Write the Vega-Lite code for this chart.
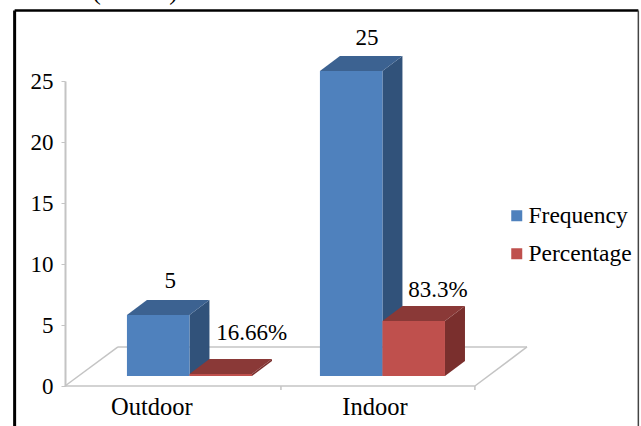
{"$schema":"https://vega.github.io/schema/vega-lite/v6.json","width":462,"height":305,"autosize":"none","padding":{"left":65,"top":81,"right":114,"bottom":40},"background":"white","config":{"view":{"stroke":null},"font":"Liberation Serif","axisX":{"disable":true},"axisY":{"grid":false,"tickCount":6,"domainColor":"#c4c4c4","domainWidth":2,"tickColor":"#c4c4c4","tickSize":4,"labelFont":"Liberation Serif","labelFontSize":23,"labelColor":"#000000","labelPadding":8}},"title":{"text":"and in 1 (3.33%) hobbies are absent.","anchor":"start","frame":"group","dx":-65,"offset":4,"font":"Liberation Serif","fontSize":26.5,"fontWeight":"normal","color":"#000000"},"data":{"values":[{"place":"Outdoor","series":"Frequency","value":5,"label":"5"},{"place":"Outdoor","series":"Percentage","value":0.16,"label":"16.66%"},{"place":"Indoor","series":"Frequency","value":25,"label":"25"},{"place":"Indoor","series":"Percentage","value":4.5,"label":"83.3%"}]},"transform":[{"calculate":"(datum.place==='Indoor'?1:0)+(datum.series==='Percentage'?0.324:0)","as":"left"},{"calculate":"datum.left+0.324","as":"right"},{"calculate":"datum.value+0.82","as":"top"},{"calculate":"0.82","as":"base"}],"layer":[
{"transform":[{"filter":"datum.label==='5'"}],"mark":{"type":"rule","stroke":"#000000","strokeWidth":3},"encoding":{"x":{"datum":-0.582,"type":"quantitative","scale":{"domain":[-0.321,2.073],"nice":false,"zero":false}},"y":{"datum":-4,"type":"quantitative","title":null,"scale":{"domain":[0,25],"nice":false,"zero":false}},"y2":{"datum":30.78}}},
{"transform":[{"filter":"datum.label==='5'"}],"mark":{"type":"rule","stroke":"#000000","strokeWidth":2.5},"encoding":{"x":{"datum":-0.582,"type":"quantitative","scale":{"domain":[-0.321,2.073],"nice":false,"zero":false}},"x2":{"datum":2.65},"y":{"datum":30.78,"type":"quantitative","title":null,"scale":{"domain":[0,25],"nice":false,"zero":false}}}},
{"transform":[{"filter":"datum.label==='5'"}],"mark":{"type":"rule","stroke":"#444444","strokeWidth":1.5},"encoding":{"x":{"datum":2.65,"type":"quantitative","scale":{"domain":[-0.321,2.073],"nice":false,"zero":false}},"y":{"datum":-4,"type":"quantitative","title":null,"scale":{"domain":[0,25],"nice":false,"zero":false}},"y2":{"datum":30.78}}},
{"transform":[{"filter":"datum.label==='5'"}],"mark":{"type":"rule","stroke":"#c4c4c4","strokeWidth":1.5},"encoding":{"x":{"datum":-0.321,"type":"quantitative","scale":{"domain":[-0.321,2.073],"nice":false,"zero":false}},"x2":{"datum":1.803},"y":{"datum":0,"type":"quantitative","title":null,"scale":{"domain":[0,25],"nice":false,"zero":false}}}},
{"transform":[{"filter":"datum.label==='5'"}],"mark":{"type":"rule","stroke":"#c4c4c4","strokeWidth":1.5},"encoding":{"x":{"datum":-0.321,"type":"quantitative","scale":{"domain":[-0.321,2.073],"nice":false,"zero":false}},"x2":{"datum":-0.0466},"y":{"datum":0,"type":"quantitative","title":null,"scale":{"domain":[0,25],"nice":false,"zero":false}},"y2":{"datum":3.2}}},
{"transform":[{"filter":"datum.label==='5'"}],"mark":{"type":"rule","stroke":"#c4c4c4","strokeWidth":1.5},"encoding":{"x":{"datum":-0.0466,"type":"quantitative","scale":{"domain":[-0.321,2.073],"nice":false,"zero":false}},"x2":{"datum":2.073},"y":{"datum":3.2,"type":"quantitative","title":null,"scale":{"domain":[0,25],"nice":false,"zero":false}}}},
{"transform":[{"filter":"datum.label==='5'"}],"mark":{"type":"rule","stroke":"#c4c4c4","strokeWidth":1.5},"encoding":{"x":{"datum":1.803,"type":"quantitative","scale":{"domain":[-0.321,2.073],"nice":false,"zero":false}},"x2":{"datum":2.073},"y":{"datum":0,"type":"quantitative","title":null,"scale":{"domain":[0,25],"nice":false,"zero":false}},"y2":{"datum":3.2}}},
{"transform":[{"filter":"datum.label==='5'"}],"mark":{"type":"rule","stroke":"#c4c4c4","strokeWidth":1.5},"encoding":{"x":{"datum":0.798,"type":"quantitative","scale":{"domain":[-0.321,2.073],"nice":false,"zero":false}},"y":{"datum":0,"type":"quantitative","title":null,"scale":{"domain":[0,25],"nice":false,"zero":false}},"y2":{"datum":-0.33}}},
{"transform":[{"filter":"datum.label==='5'"}],"mark":{"type":"rule","stroke":"#c4c4c4","strokeWidth":1.5},"encoding":{"x":{"datum":1.803,"type":"quantitative","scale":{"domain":[-0.321,2.073],"nice":false,"zero":false}},"y":{"datum":0,"type":"quantitative","title":null,"scale":{"domain":[0,25],"nice":false,"zero":false}},"y2":{"datum":-0.33}}},
{"transform":[{"filter":"datum.series==='Frequency'"},{"calculate":"datum.left+0.1295+(datum.place==='Indoor'?0.1555:0)","as":"px"},{"calculate":"-1.8","as":"py"}],"mark":{"type":"text","font":"Liberation Serif","fontSize":24.5,"baseline":"middle","align":"center","color":"#000000"},"encoding":{"x":{"field":"px","type":"quantitative","scale":{"domain":[-0.321,2.073],"nice":false,"zero":false}},"y":{"field":"py","type":"quantitative","title":null,"scale":{"domain":[0,25],"nice":false,"zero":false}},"text":{"field":"place"}}},
{"transform":[{"calculate":"[0,1]","as":"depth"},{"flatten":["depth"]},{"calculate":"datum.right+datum.depth*0.1036","as":"sx"},{"calculate":"0.82+datum.depth*1.23","as":"sb"},{"calculate":"datum.top+datum.depth*1.23","as":"st"}],"mark":{"type":"area","orient":"vertical"},"encoding":{"x":{"field":"sx","type":"quantitative","scale":{"domain":[-0.321,2.073],"nice":false,"zero":false}},"y":{"field":"sb","type":"quantitative","title":null,"scale":{"domain":[0,25],"nice":false,"zero":false}},"y2":{"field":"st"},"detail":{"field":"left"},"color":{"field":"series","type":"nominal","legend":null,"scale":{"domain":["Frequency","Percentage"],"range":["#31527a","#7a2f2d"]}}}},
{"transform":[{"calculate":"[0,1]","as":"depth"},{"flatten":["depth"]},{"calculate":"datum.left+datum.depth*0.1036","as":"tl"},{"calculate":"datum.right+datum.depth*0.1036","as":"tr"},{"calculate":"datum.top+datum.depth*1.23","as":"ty"}],"mark":{"type":"area","orient":"horizontal"},"encoding":{"y":{"field":"ty","type":"quantitative","title":null,"scale":{"domain":[0,25],"nice":false,"zero":false}},"x":{"field":"tl","type":"quantitative","scale":{"domain":[-0.321,2.073],"nice":false,"zero":false}},"x2":{"field":"tr"},"detail":{"field":"left"},"color":{"field":"series","type":"nominal","legend":null,"scale":{"domain":["Frequency","Percentage"],"range":["#3c6291","#8a3937"]}}}},
{"mark":{"type":"rect"},"encoding":{"x":{"field":"left","type":"quantitative","scale":{"domain":[-0.321,2.073],"nice":false,"zero":false}},"x2":{"field":"right"},"y":{"field":"base","type":"quantitative","title":null,"scale":{"domain":[0,25],"nice":false,"zero":false}},"y2":{"field":"top"},"color":{"field":"series","type":"nominal","title":null,"scale":{"domain":["Frequency","Percentage"],"range":["#4f81bd","#bf504d"]},"legend":{"orient":"none","legendX":440,"legendY":123,"symbolType":"square","symbolSize":121,"symbolStrokeWidth":0,"labelFont":"Liberation Serif","labelFontSize":23.5,"labelColor":"#000000","labelOffset":0,"rowPadding":13}}}},
{"transform":[{"calculate":"datum.left+0.214+(datum.label==='5'?0.01:datum.label==='25'?0.03:datum.label==='16.66%'?0.109:0.073)","as":"lx"},{"calculate":"datum.top+1.23+(datum.label==='5'?1.55:datum.label==='25'?1.47:datum.label==='16.66%'?2.13:1.32)","as":"ly"}],"mark":{"type":"text","font":"Liberation Serif","fontSize":23,"baseline":"middle","align":"center","color":"#000000"},"encoding":{"x":{"field":"lx","type":"quantitative","scale":{"domain":[-0.321,2.073],"nice":false,"zero":false}},"y":{"field":"ly","type":"quantitative","title":null,"scale":{"domain":[0,25],"nice":false,"zero":false}},"text":{"field":"label"}}}
],"resolve":{"scale":{"color":"independent"}}}
